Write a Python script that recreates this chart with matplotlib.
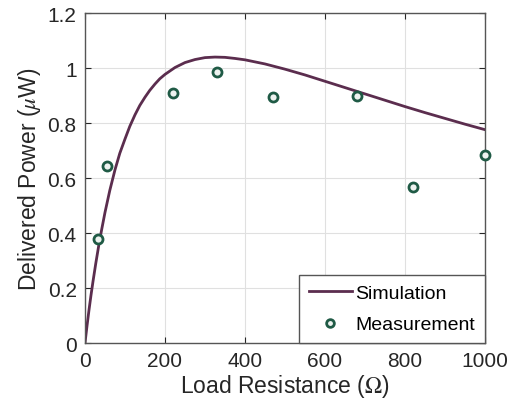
import matplotlib.pyplot as plt

plt.rcParams['font.family'] = ['Liberation Sans', 'DejaVu Sans']
plt.rcParams['mathtext.fontset'] = 'stix'

# simulation curve
sim_r = [0, 5, 10, 15, 20, 27, 35, 42, 50, 62, 75, 87, 100, 112, 125, 137, 150,
         162, 175, 187, 200, 225, 250, 275, 300, 325, 350, 375, 400, 450, 500,
         550, 600, 650, 700, 750, 800, 850, 900, 950, 1000]
sim_p = [0.0, 0.062, 0.12, 0.174, 0.224, 0.29, 0.36, 0.415, 0.475, 0.555, 0.63,
         0.69, 0.742, 0.788, 0.83, 0.864, 0.894, 0.919, 0.942, 0.961, 0.977,
         1.002, 1.02, 1.031, 1.038, 1.04, 1.039, 1.035, 1.03, 1.015, 0.996,
         0.975, 0.952, 0.929, 0.906, 0.883, 0.86, 0.838, 0.817, 0.796, 0.776]

# measured points
meas_r = [33, 56, 220, 330, 470, 680, 820, 1000]
meas_p = [0.378, 0.645, 0.908, 0.984, 0.893, 0.899, 0.566, 0.685]

fig = plt.figure(figsize=(5.17, 4.14), dpi=100)
ax = fig.add_axes([0.1644, 0.169, 0.7736, 0.797])

ax.plot(sim_r, sim_p, color='#5b2d4e', linewidth=2.0, label='Simulation')
ax.plot(meas_r, meas_p, linestyle='none', marker='o', markersize=6.5,
        markeredgewidth=2.0, markeredgecolor='#1f5a45', markerfacecolor='#eef3f0',
        label='Measurement', clip_on=False, zorder=5)

ax.set_xlim(0, 1000)
ax.set_ylim(0, 1.2)
ax.set_xticks([0, 200, 400, 600, 800, 1000])
ax.set_yticks([0, 0.2, 0.4, 0.6, 0.8, 1.0, 1.2])
ax.set_yticklabels(['0', '0.2', '0.4', '0.6', '0.8', '1', '1.2'])
ax.grid(True, color='#e0e0e0', linewidth=0.8)
ax.set_axisbelow(True)
ax.tick_params(direction='in', top=True, right=True, labelsize=15,
               colors='#262626', length=4, width=0.8, pad=6)
for s in ax.spines.values():
    s.set_color('#555555')
    s.set_linewidth(1.0)

ax.set_xlabel(r'Load Resistance ($\Omega$)', fontsize=16.5, color='#262626', labelpad=1)
ax.set_ylabel(r'Delivered Power ($\mu$W)', fontsize=16.5, color='#262626', labelpad=3)

leg = ax.legend(loc='lower right', fontsize=14, borderaxespad=0, fancybox=False,
                framealpha=1, edgecolor='#555555', handlelength=2.2,
                handletextpad=0.2, borderpad=0.5, labelspacing=0.7,
                markerscale=0.85)
leg.get_frame().set_linewidth(1.0)

fig.savefig('out.png', dpi=100)
